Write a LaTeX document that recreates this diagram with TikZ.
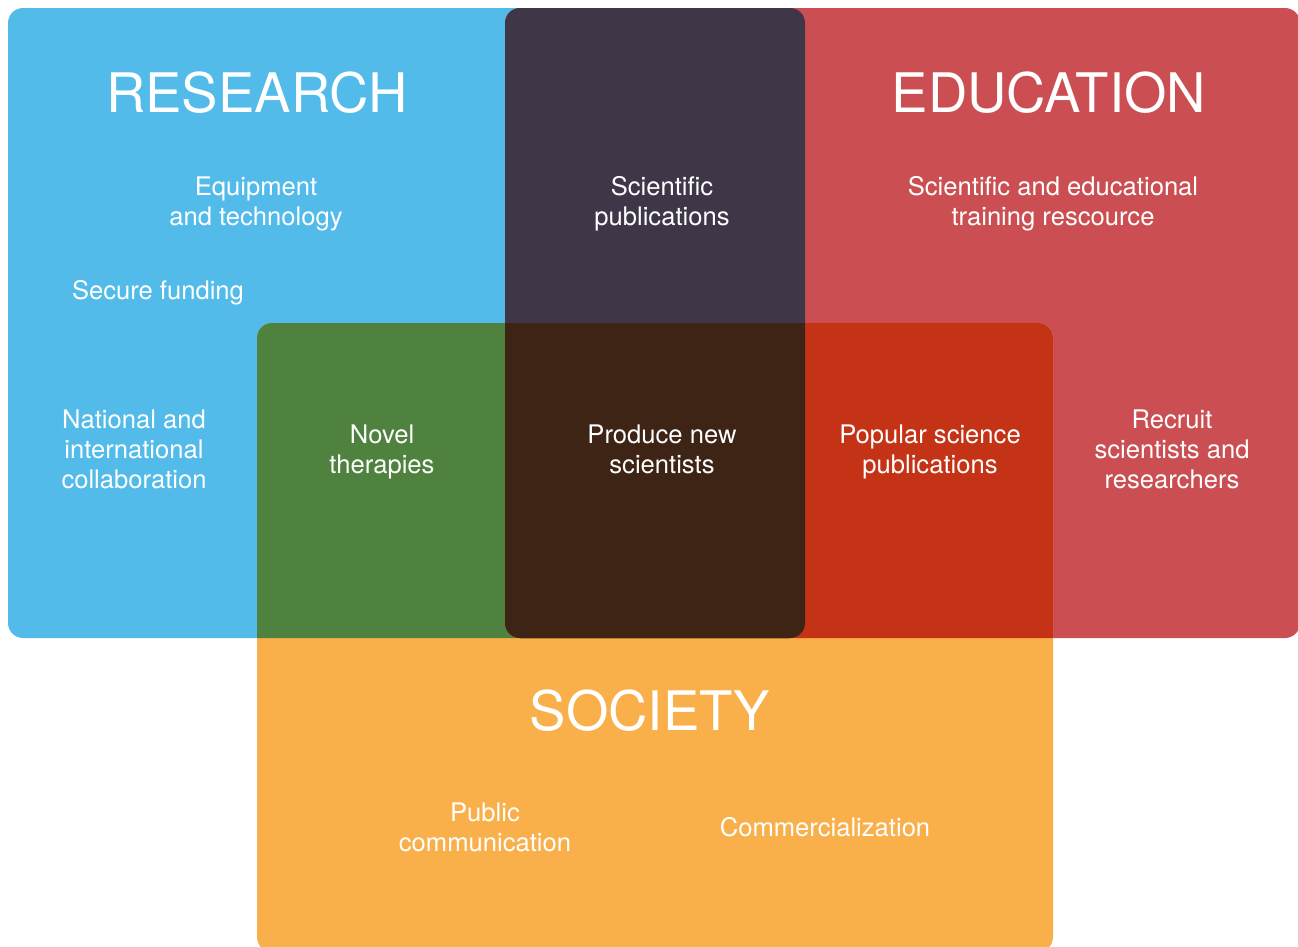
\documentclass[tikz,border=0pt]{standalone}
\usepackage{fontspec}
\setmainfont{TeX Gyre Heros}
\usetikzlibrary{backgrounds}

\definecolor{research}{HTML}{52BBE9}
\definecolor{education}{HTML}{CB4F52}
\definecolor{society}{HTML}{F9B04A}
\definecolor{resedu}{HTML}{3F3648}
\definecolor{ressoc}{HTML}{4F813F}
\definecolor{edusoc}{HTML}{C43316}
\definecolor{allthree}{HTML}{3E2415}

\newcommand{\researcharea}{(8,8) rectangle (805,638)}
\newcommand{\educationarea}{(505,8) rectangle (1300,638)}
\newcommand{\societyarea}{(257,323) rectangle (1053,952)}

\begin{document}
\begin{tikzpicture}[x=1pt,y=-1pt,box/.style={rounded corners=15pt}]
        \tikzstyle{every node}=[text=white, align=center, font=\fontsize{25.6}{30}\selectfont]
        \tikzstyle{title}=[font=\fontsize{54.5}{60}\selectfont]

        \useasboundingbox (0,0) rectangle (1298,946);
        \clip (0,0) rectangle (1298,946);

        % the three areas
        \fill[box, research]  \researcharea;
        \fill[box, education] \educationarea;
        \fill[box, society]   \societyarea;

        % overlaps of two
        \begin{scope}
          \clip[box] \researcharea;
          \fill[box, resedu] \educationarea;
          \fill[box, ressoc] \societyarea;
        \end{scope}
        \begin{scope}
          \clip[box] \educationarea;
          \fill[box, edusoc] \societyarea;
        \end{scope}
        % overlap of all three
        \begin{scope}
          \clip[box] \researcharea;
          \clip[box] \educationarea;
          \fill[box, allthree] \societyarea;
        \end{scope}

        \node[title] (research)  at (257,93)  {RESEARCH};
        \node[title] (education) at (1049,93) {EDUCATION};
        \node[title] (society)   at (650,711) {SOCIETY};

        \node (equipment)    at (256,204)  {Equipment\\and technology};
        \node (funding)      at (158,293)  {Secure funding};
        \node (publications) at (662,204)  {Scientific\\publications};
        \node (training)     at (1053,204) {Scientific and educational\\training rescource};
        \node (collab)       at (134,449)  {National and\\international\\collaboration};
        \node (therapies)    at (382,452)  {Novel\\therapies};
        \node (scientists)   at (662,449)  {Produce new\\scientists};
        \node (popular)      at (930,452)  {Popular science\\publications};
        \node (recruit)      at (1172,449) {Recruit\\scientists and\\researchers};
        \node (public)       at (485,827)  {Public\\communication};
        \node (commerce)     at (825,827)  {Commercialization};
\end{tikzpicture}
\end{document}
